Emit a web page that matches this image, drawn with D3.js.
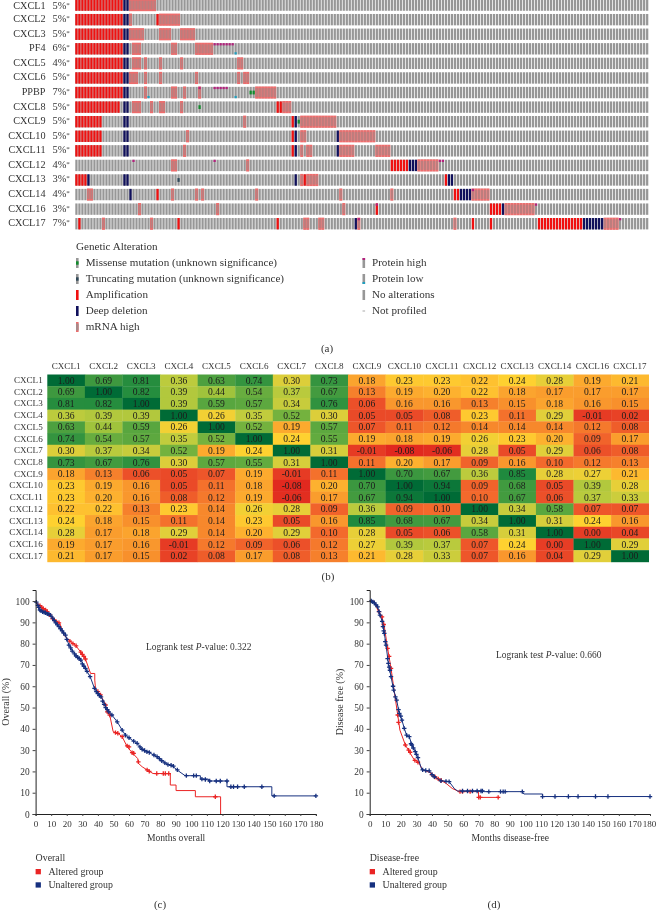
<!DOCTYPE html>
<html>
<head>
<meta charset="utf-8">
<script src="https://cdn.jsdelivr.net/npm/d3@7"></script>
<style>
  html, body { margin: 0; padding: 0; background: #fff; }
  svg { display: block; font-family: "Liberation Serif", serif; filter: blur(0.45px); }
  text { fill: #333; }
</style>
</head>
<body>
<svg id="fig" width="656" height="910"></svg>
<script>
// panel a: oncoprint, runs are [first sample, last sample] per gene
var genes = ["CXCL1","CXCL2","CXCL3","PF4","CXCL5","CXCL6","PPBP","CXCL8","CXCL9","CXCL10","CXCL11","CXCL12","CXCL13","CXCL14","CXCL16","CXCL17"];
var genePct = [5,5,5,6,4,5,7,5,5,5,5,4,3,4,3,7];
var sampleCount = 191;
var amplification = [
  [[0,15]],[[0,15],[27,27]],[[0,15]],[[0,15]],[[0,15]],[[0,15]],[[0,15]],[[0,14],[67,68]],
  [[0,8],[72,72]],[[0,8],[72,72]],[[0,8],[72,72]],[[105,110]],[[0,3],[76,76],[123,123]],[[27,27],[126,127]],
  [[100,100],[138,141]],[[1,1],[34,34],[67,67],[132,132],[138,138],[154,168]]
];
var deepDeletion = [
  [[16,17]],[[16,17]],[[16,17]],[[16,17]],[[16,17]],[[16,17]],[[16,17]],[[16,17]],
  [[16,17],[73,73]],[[16,17],[73,73],[87,87]],[[16,17],[73,73],[87,87]],[[111,113]],[[4,4],[16,17],[73,73],[124,125]],[[18,18],[128,131]],
  [[142,142]],[[93,93],[169,175]]
];
var mrnaHigh = [
  [[18,26]],[[18,18],[28,34]],[[18,22],[28,31],[35,39]],[[19,21],[32,33],[40,45]],
  [[19,21],[23,23],[28,28],[35,35],[54,55]],[[18,20],[23,23],[28,28],[40,40],[54,54],[56,57]],
  [[23,23],[32,33],[36,36],[41,41],[60,66]],[[19,21],[25,25],[28,29],[35,35],[69,71]],
  [[56,56],[75,86]],[[37,37],[75,76],[88,99]],[[36,36],[75,75],[77,78],[88,92],[100,104]],
  [[32,33],[57,57],[114,120]],[[75,75],[77,80]],[[4,5],[32,32],[40,40],[42,42],[60,60],[88,88],[105,105],[132,137]],
  [[21,21],[47,47],[89,89],[143,152]],[[9,9],[25,25],[76,77],[81,82],[94,94],[126,126],[176,180]]
];
var proteinHigh = [
  [],[],[],[[46,52]],[],[],[[41,41],[46,50]],[],[],[],[],[[19,19],[46,46],[121,122]],[],[[132,132]],[[100,100],[153,153]],[[94,94],[181,181]]
];
var proteinLow = [
  [],[],[],[[53,53]],[],[],[[24,24],[53,53]],[],[],[],[],[],[],[],[],[]
];
var missense = [
  [],[],[],[],[],[],[[58,59]],[[41,41]],[[74,74]],[],[],[],[],[],[],[]
];
var truncating = [
  [],[],[],[],[],[],[],[],[],[],[],[],[[34,34]],[],[],[]
];
var legendLeft = ["Missense mutation (unknown significance)","Truncating mutation (unknown significance)","Amplification","Deep deletion","mRNA high"];
var legendRight = ["Protein high","Protein low","No alterations","Not profiled"];

// panel b: correlation table
var corrLabels = ["CXCL1","CXCL2","CXCL3","CXCL4","CXCL5","CXCL6","CXCL7","CXCL8","CXCL9","CXCL10","CXCL11","CXCL12","CXCL13","CXCL14","CXCL16","CXCL17"];
var corrValues = [
  [1.00,0.69,0.81,0.36,0.63,0.74,0.30,0.73,0.18,0.23,0.23,0.22,0.24,0.28,0.19,0.21],
  [0.69,1.00,0.82,0.39,0.44,0.54,0.37,0.67,0.13,0.19,0.20,0.22,0.18,0.17,0.17,0.17],
  [0.81,0.82,1.00,0.39,0.59,0.57,0.34,0.76,0.06,0.16,0.16,0.13,0.15,0.18,0.16,0.15],
  [0.36,0.39,0.39,1.00,0.26,0.35,0.52,0.30,0.05,0.05,0.08,0.23,0.11,0.29,-0.01,0.02],
  [0.63,0.44,0.59,0.26,1.00,0.52,0.19,0.57,0.07,0.11,0.12,0.14,0.14,0.14,0.12,0.08],
  [0.74,0.54,0.57,0.35,0.52,1.00,0.24,0.55,0.19,0.18,0.19,0.26,0.23,0.20,0.09,0.17],
  [0.30,0.37,0.34,0.52,0.19,0.24,1.00,0.31,-0.01,-0.08,-0.06,0.28,0.05,0.29,0.06,0.08],
  [0.73,0.67,0.76,0.30,0.57,0.55,0.31,1.00,0.11,0.20,0.17,0.09,0.16,0.10,0.12,0.13],
  [0.18,0.13,0.06,0.05,0.07,0.19,-0.01,0.11,1.00,0.70,0.67,0.36,0.85,0.28,0.27,0.21],
  [0.23,0.19,0.16,0.05,0.11,0.18,-0.08,0.20,0.70,1.00,0.94,0.09,0.68,0.05,0.39,0.28],
  [0.23,0.20,0.16,0.08,0.12,0.19,-0.06,0.17,0.67,0.94,1.00,0.10,0.67,0.06,0.37,0.33],
  [0.22,0.22,0.13,0.23,0.14,0.26,0.28,0.09,0.36,0.09,0.10,1.00,0.34,0.58,0.07,0.07],
  [0.24,0.18,0.15,0.11,0.14,0.23,0.05,0.16,0.85,0.68,0.67,0.34,1.00,0.31,0.24,0.16],
  [0.28,0.17,0.18,0.29,0.14,0.20,0.29,0.10,0.28,0.05,0.06,0.58,0.31,1.00,0.00,0.04],
  [0.19,0.17,0.16,-0.01,0.12,0.09,0.06,0.12,0.27,0.39,0.37,0.07,0.24,0.00,1.00,0.29],
  [0.21,0.17,0.15,0.02,0.08,0.17,0.08,0.13,0.21,0.28,0.33,0.07,0.16,0.04,0.29,1.00]
];

// panels c and d: survival curves as [months, percent]
var overallUnaltered = [[0,100],[1.5,98],[2.8,95.8],[6.4,94.5],[9.6,93.4],[11.8,91],[15,88],[19.2,84],[21.4,79.3],[25.6,74.6],[28.8,72.8],[32,68.4],[35.3,64],[37.8,59],[40.6,55.9],[42.7,54.3],[44.9,50.4],[49,46.5],[52.4,43.3],[55.6,39.4],[57.7,37],[62,34.7],[65.2,33.2],[68.4,30.4],[72.6,29],[75.9,27.7],[80,25.8],[83.3,23.8],[87.6,22.7],[90.8,20.7],[96,18],[105.8,18],[105.8,16.4],[111,16.4],[111,15.5],[122.9,15.5],[122.9,12.8],[151.7,12.8],[151.7,8.5],[180,8.5]];
var overallAltered = [[0,100],[2.8,97.8],[6.4,95.8],[10.7,91.9],[15.6,89.5],[18.2,84],[22,81.2],[25.6,79.3],[28.8,76.2],[32,72.8],[35.3,66],[38,66],[38,62.9],[38.5,58.7],[41.7,55.9],[44.9,51.2],[46,48],[47.6,46.5],[49.8,38.7],[52.8,37.9],[55.6,36.3],[58.8,31.6],[62,28.8],[65.6,26],[66,23.8],[68.4,22.2],[71.6,20.7],[75.4,19],[86.5,19],[86.5,13.6],[90.2,13.6],[90.2,11],[102.6,11],[102.6,8.1],[118.8,8.1],[118.8,0]];
var overallUnalteredCensor = [[0.5,99.5],[1.5,98],[2,97],[2.8,95.8],[3.5,95.4],[4.5,95],[5.5,94.7],[6.4,94.5],[7.5,94],[8.5,93.8],[9.6,93.4],[11,92],[12,90.8],[13,89.8],[14,88.8],[15,88],[16,87],[17,86],[18,85],[19.2,84],[20,82],[21.4,79.3],[22.5,78],[23.5,76.5],[25,75.2],[26,74.2],[27,73.6],[28,73],[29,72.3],[30,70.5],[31,69.4],[32,68.4],[33,67],[35,64.5],[37.8,59],[39,57.5],[40,56.5],[41,55.6],[42,55],[43,53],[44,51.5],[45,50],[46,49],[47,48],[49,46.5],[52.4,43.3],[55.6,39.4],[57.7,37],[60,35.8],[63,34.2],[65.2,33.2],[67,31.5],[68.4,30.4],[70,29.8],[71.5,29.2],[73,28.9],[76,27.7],[78,26.9],[79.5,26],[81,25],[83,24],[85,23.2],[87,22.9],[88.5,22.5],[91,20.7],[96.8,18],[101.5,18],[103.2,18],[106.8,16.4],[109,16.2],[111.8,15.5],[116,15.5],[118.6,15.5],[122.9,15.5],[125.4,12.8],[127.1,12.8],[129.7,12.8],[134,12.8],[145.3,12.8],[153.2,8.5],[180,8.5]];
var overallAlteredCensor = [[2.8,97.8],[4,97],[5,96.4],[6.4,95.8],[7.5,95],[9,93.5],[11,91.7],[13,90.5],[15,89.8],[22,81.2],[24,80],[26,79],[29,76],[30,75],[31,74],[32,72.8],[40,57.5],[41.7,55.9],[44.9,51.2],[46,48],[47.6,46.5],[51.3,38.2],[52.8,37.9],[55.6,36.3],[58.8,32],[60,31.5],[62,28.8],[63,28.5],[66,24.5],[71.6,20.7],[73,20],[77.8,19],[82,19],[83.3,19],[85.5,19],[115.4,8.1]];
var diseaseUnaltered = [[0,100],[3,99.2],[5.1,97.3],[6.6,93.4],[8.3,90],[9.4,84.8],[10.5,79.3],[12,70.7],[13.7,64.5],[15.4,58.2],[17.3,53.5],[19,47.3],[20.7,44.1],[22.2,40.2],[23.7,37],[25.4,36.3],[27.1,32.4],[29.3,29.3],[31.4,25.4],[33.5,20.7],[38.2,20.3],[41.5,17.5],[45.7,15.6],[51,15.2],[54.3,12],[56.4,10.8],[72.4,10.8],[73.5,10.5],[98,10.5],[99,9.4],[111,9.4],[111,8.2],[180,8.2]];
var diseaseAltered = [[0,100],[3,100],[5.1,95.8],[7.9,92.6],[9.4,88],[11.5,77.8],[13.7,68.4],[15.8,57.4],[18,46.5],[19.4,39.4],[22.9,32.4],[25.4,29.3],[28.6,25.4],[31.4,24.3],[34,20.7],[38.2,19.6],[43.6,16.7],[49,14.4],[53,12],[57.5,10.5],[69.9,10.5],[69.9,7.8],[82.5,7.8]];
var diseaseUnalteredCensor = [[1,100],[2,99.6],[3,99.2],[4,98.2],[5.1,97.3],[6,95],[6.6,93.4],[8,90.5],[8.5,88],[9,86],[9.4,84.8],[10,81],[10.5,79.3],[11.5,73],[12,70.7],[12.5,69],[13,67.5],[13.7,64.5],[15,60],[15.4,58.2],[16.5,55],[17.3,53.5],[18.5,49],[19,47.3],[20,46],[20.7,44.1],[22.2,40.2],[23.7,37],[25.4,36.3],[26.5,33],[27.1,32.4],[28,31],[29.3,29.3],[30,28],[31,26.5],[34,20.7],[36,20.4],[38.2,20.3],[40,18.5],[41.5,17.5],[45.7,15.6],[49,15.3],[51,15.2],[59.6,10.8],[62.8,10.8],[66,10.8],[69,10.8],[71.5,10.8],[72.4,10.8],[76.5,10.5],[84,10.5],[85.7,10.5],[87,10.5],[98,10.5],[111,8.2],[119,8.2],[127.6,8.2],[133.8,8.2],[145,8.2],[153,8.2],[180,8.2]];
var diseaseAlteredCensor = [[6,95],[7.9,92.6],[9,89],[11.5,77.8],[12.5,74],[13.7,68.4],[18,46.5],[18.5,43],[22.9,32.4],[25,30],[26,29],[29,25.2],[31,24.3],[40,18.5],[42,17.4],[44,16.5],[46,15.7],[58,10.5],[59.6,10.5],[64.5,10.5],[70,7.8],[71,7.8],[82.5,7.8]];
var survivalMonths = d3.range(0, 181, 10);
var survivalPercent = d3.range(0, 101, 10);

var svg = d3.select("#fig");
var grey = "#979797", amp = "#f01010", del = "#10105c", mrna = "#ee6c6c", navy = "#16307f", red = "#ea2424";

function caption(txt, x, y) {
  svg.append("text").attr("x", x).attr("y", y).attr("text-anchor", "middle").style("font-size", "11px").text(txt);
}

function drawOncoprint() {
  var x = d3.scaleBand().domain(d3.range(sampleCount)).range([75.3, 648.3]).paddingInner(0.25);
  var y = d3.scaleBand().domain(genes).range([-0.6, 229.4]).paddingInner(0.22);
  var bw = x.bandwidth(), bh = y.bandwidth();
  var g = svg.append("g");

  genes.forEach(function (gene, i) {
    var row = g.append("g").attr("transform", "translate(0," + y(gene) + ")");
    function expand(runs) {
      var s = [];
      runs.forEach(function (r) { d3.range(r[0], r[1] + 1).forEach(function (k) { s.push(k); }); });
      return s;
    }
    function bars(runs, color, top, height, wide) {
      row.selectAll(null).data(expand(runs)).enter().append("rect")
        .attr("x", function (d) { return x(d) - (wide ? x.step() * 0.125 : 0); })
        .attr("y", top)
        .attr("width", wide ? x.step() : bw)
        .attr("height", height)
        .attr("fill", color);
    }
    bars([[0, sampleCount - 1]], grey, 0, bh);
    bars(mrnaHigh[i], mrna, -0.4, bh + 0.8, true);
    bars(mrnaHigh[i], "#bd7d7d", 1.2, bh - 2.4);
    bars(amplification[i], amp, 0, bh);
    bars(deepDeletion[i], del, 0, bh);
    bars(proteinHigh[i], "#b3207c", 0, bh * 0.2);
    bars(proteinLow[i], "#1f9fbf", bh * 0.8, bh * 0.2);
    bars(missense[i], "#128a2c", bh / 3, bh / 3);
    bars(truncating[i], "#2f4858", bh / 3, bh / 3);

    // first row sits at the page edge, keep its label on the page
    var ty = Math.max(y(gene) + bh / 2 + 2.5, 9.4);
    g.append("text").attr("x", 45.5).attr("y", ty).attr("text-anchor", "end").style("font-size", "10.2px").text(gene);
    var pct = g.append("text").attr("x", 52.5).attr("y", ty).style("font-size", "10.4px").text(genePct[i] + "%");
    pct.append("tspan").attr("dy", -2).style("font-size", "7px").text("*");
  });

  // legend
  var lx = 76, lg = svg.append("g");
  lg.append("text").attr("x", lx).attr("y", 250).style("font-size", "11.1px").text("Genetic Alteration");
  var ly = d3.scalePoint().domain(d3.range(5)).range([263, 327]);
  function glyph(px, py, base, color, top, h) {
    lg.append("rect").attr("x", px).attr("y", py - 5).attr("width", 2.6).attr("height", 10).attr("fill", base);
    if (color) lg.append("rect").attr("x", px).attr("y", py - 5 + top).attr("width", 2.6).attr("height", h).attr("fill", color);
  }
  var leftGlyph = [[grey, "#128a2c", 3.3, 3.4], [grey, "#2f4858", 3.3, 3.4], [amp], [del], [mrna, "#a88a8a", 1.5, 7]];
  legendLeft.forEach(function (t, i) {
    var g0 = leftGlyph[i];
    glyph(lx, ly(i), g0[0], g0[1], g0[2], g0[3]);
    lg.append("text").attr("x", 85.7).attr("y", ly(i) + 3.4).style("font-size", "11.1px").text(t);
  });
  var rightGlyph = [[grey, "#b3207c", 0, 2], [grey, "#1f9fbf", 8, 2], [grey]];
  legendRight.forEach(function (t, i) {
    if (i < 3) {
      var g0 = rightGlyph[i];
      glyph(362.5, ly(i), g0[0], g0[1], g0[2], g0[3]);
    } else {
      lg.append("rect").attr("x", 362.5).attr("y", ly(i) - 0.5).attr("width", 2.6).attr("height", 1).attr("fill", "#aaa");
    }
    lg.append("text").attr("x", 372).attr("y", ly(i) + 3.4).style("font-size", "11.1px").text(t);
  });
  caption("(a)", 327, 351.5);
}

function drawHeatmap() {
  var x = d3.scaleBand().domain(corrLabels).range([47.3, 648.7]);
  var y = d3.scaleBand().domain(corrLabels).range([374.5, 561.9]);
  var color = d3.scaleLinear()
    .domain([-0.08, 0.05, 0.1, 0.15, 0.2, 0.24, 0.29, 0.36, 0.45, 0.55, 0.7, 0.85, 1])
    .range(["#e1291f", "#ea4a28", "#f3692c", "#f8902c", "#fdb12f", "#fed130", "#e1cf3a", "#bccb3d", "#9dc23c", "#62ab3f", "#3b973f", "#1f8a3e", "#006b36"]);
  var g = svg.append("g");

  corrValues.forEach(function (row, i) {
    row.forEach(function (v, j) {
      g.append("rect").attr("x", x(corrLabels[j])).attr("y", y(corrLabels[i]))
        .attr("width", x.bandwidth() + 0.3).attr("height", y.bandwidth() + 0.3).attr("fill", color(v));
      g.append("text").attr("x", x(corrLabels[j]) + x.bandwidth() / 2).attr("y", y(corrLabels[i]) + y.bandwidth() / 2 + 3.2)
        .attr("text-anchor", "middle").style("font-size", "9.6px").style("fill", "#1c1c1c").text(v.toFixed(2));
    });
  });
  corrLabels.forEach(function (name) {
    g.append("text").attr("x", x(name) + x.bandwidth() / 2).attr("y", 369.3)
      .attr("text-anchor", "middle").style("font-size", "9.1px").text(name);
    g.append("text").attr("x", 42.7).attr("y", y(name) + y.bandwidth() / 2 + 2.7)
      .attr("text-anchor", "end").style("font-size", "9.1px").text(name);
  });
  caption("(b)", 328, 580);
}

function drawSurvival(opt) {
  var x = d3.scaleLinear().domain([0, 180]).range([opt.left, opt.left + 280.3]);
  var y = d3.scaleLinear().domain([0, 105.2]).range([814, 590]);
  var g = svg.append("g");

  var line = d3.line().x(function (d) { return x(d[0]); }).y(function (d) { return y(d[1]); });
  function curve(data, censor, color) {
    g.append("path").attr("d", line(data)).attr("fill", "none").attr("stroke", color).attr("stroke-width", 1);
    g.selectAll(null).data(censor).enter().append("path")
      .attr("transform", function (d) { return "translate(" + x(d[0]) + "," + y(d[1]) + ")"; })
      .attr("d", "M-2.2,0H2.2M0,-2.2V2.2").attr("stroke", color).attr("stroke-width", 1.3).attr("fill", "none");
  }
  curve(opt.altered, opt.alteredCensor, red);
  curve(opt.unaltered, opt.unalteredCensor, navy);

  var xAxis = d3.axisBottom(x).tickValues(survivalMonths).tickSize(2).tickPadding(5).tickFormat(d3.format("d"));
  var yAxis = d3.axisLeft(y).tickValues(survivalPercent).tickSize(3).tickPadding(3).tickFormat(d3.format("d"));
  g.append("g").attr("class", "x-axis").attr("transform", "translate(0,814)").call(xAxis);
  g.append("g").attr("transform", "translate(" + opt.left + ",0)").call(yAxis);
  g.selectAll(".domain").attr("stroke", "#222").attr("stroke-width", 1);
  g.selectAll(".tick line").attr("stroke", "#444");
  g.selectAll(".tick text").style("font-family", "'Liberation Serif', serif").style("font-size", "9.4px").style("fill", "#333");
  g.select(".x-axis").selectAll(".tick text").style("font-size", "9px");
  // keep the last label of the right panel inside the page
  g.select(".x-axis").selectAll(".tick text").filter(function (d) { return d === 180; }).attr("dx", opt.lastDx);

  g.append("text").attr("x", opt.left + 140.5).attr("y", 841).attr("text-anchor", "middle").style("font-size", "9.6px").text(opt.xLabel);
  g.append("text").attr("text-anchor", "middle").style("font-size", "10px")
    .attr("transform", "translate(" + (opt.left - 26.5) + ",702)rotate(-90)").text(opt.yLabel);

  var note = g.append("text").attr("x", opt.noteX).attr("y", opt.noteY).style("font-size", "9.45px").text("Logrank test ");
  note.append("tspan").style("font-style", "italic").text("P");
  note.append("tspan").text("-value: " + opt.pValue);

  g.append("text").attr("x", opt.left).attr("y", 861).style("font-size", "9.9px").text(opt.title);
  [["Altered group", red], ["Unaltered group", navy]].forEach(function (d, i) {
    var py = 874.5 + i * 13.3;
    g.append("rect").attr("x", opt.left).attr("y", py - 5.5).attr("width", 5.3).attr("height", 5.3).attr("fill", d[1]);
    g.append("text").attr("x", opt.left + 12.8).attr("y", py).style("font-size", "9.9px").text(d[0]);
  });
}

drawOncoprint();
drawHeatmap();
drawSurvival({left: 35.6, lastDx: 0, xLabel: "Months overall", yLabel: "Overall (%)", title: "Overall", pValue: "0.322",
  noteX: 146, noteY: 650, altered: overallAltered, unaltered: overallUnaltered,
  alteredCensor: overallAlteredCensor, unalteredCensor: overallUnalteredCensor});
drawSurvival({left: 369.7, lastDx: -1, xLabel: "Months disease-free", yLabel: "Disease free (%)", title: "Disease-free", pValue: "0.660",
  noteX: 496, noteY: 658, altered: diseaseAltered, unaltered: diseaseUnaltered,
  alteredCensor: diseaseAlteredCensor, unalteredCensor: diseaseUnalteredCensor});
caption("(c)", 160, 908);
caption("(d)", 494, 908);
</script>
</body>
</html>
